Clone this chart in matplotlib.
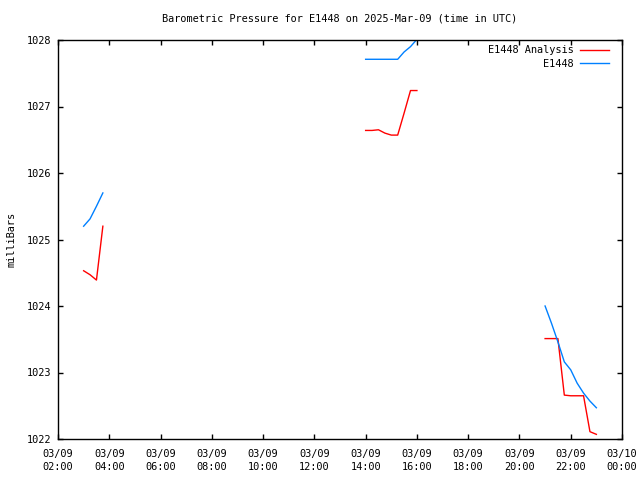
import matplotlib
matplotlib.use("Agg")
import matplotlib.pyplot as plt
import matplotlib.dates as mdates
import numpy as np
import pandas as pd

plt.rcParams['font.family'] = ['DejaVu Sans Mono']

# Times (UTC) for each segment (None marks a gap)
analysis_times = ["2025-03-09 03:00", "2025-03-09 03:15", "2025-03-09 03:30", "2025-03-09 03:45", None,
                  "2025-03-09 14:00", "2025-03-09 14:15", "2025-03-09 14:30", "2025-03-09 14:45",
                  "2025-03-09 15:00", "2025-03-09 15:15", "2025-03-09 15:30", "2025-03-09 15:45",
                  "2025-03-09 16:00", None,
                  "2025-03-09 21:00", "2025-03-09 21:15", "2025-03-09 21:30", "2025-03-09 21:45",
                  "2025-03-09 22:00", "2025-03-09 22:15", "2025-03-09 22:30", "2025-03-09 22:45",
                  "2025-03-09 23:00"]
analysis_vals = [1024.53, 1024.47, 1024.39, 1025.20, np.nan,
                 1026.64, 1026.64, 1026.65, 1026.60, 1026.57, 1026.57, 1026.90, 1027.24, 1027.24, np.nan,
                 1023.51, 1023.51, 1023.51, 1022.66, 1022.65, 1022.65, 1022.65, 1022.11, 1022.07]

obs_times = ["2025-03-09 03:00", "2025-03-09 03:15", "2025-03-09 03:30", "2025-03-09 03:45", None,
             "2025-03-09 14:00", "2025-03-09 14:15", "2025-03-09 14:30", "2025-03-09 14:45",
             "2025-03-09 15:00", "2025-03-09 15:15", "2025-03-09 15:30", "2025-03-09 15:45",
             "2025-03-09 16:00", None,
             "2025-03-09 21:00", "2025-03-09 21:15", "2025-03-09 21:30", "2025-03-09 21:45",
             "2025-03-09 22:00", "2025-03-09 22:15", "2025-03-09 22:30", "2025-03-09 22:45",
             "2025-03-09 23:00"]
obs_vals = [1025.20, 1025.31, 1025.50, 1025.70, np.nan,
            1027.71, 1027.71, 1027.71, 1027.71, 1027.71, 1027.71, 1027.82, 1027.90, 1028.01, np.nan,
            1024.00, 1023.74, 1023.46, 1023.16, 1023.04, 1022.84, 1022.69, 1022.57, 1022.47]

title = "Barometric Pressure for E1448 on 2025-Mar-09 (time in UTC)"
ylabel = "milliBars"
x_start, x_end = "2025-03-09 02:00", "2025-03-10 00:00"
y_min, y_max = 1022, 1028


def to_dates(ts):
    out = []
    prev = None
    for t in ts:
        if t is None:
            out.append(prev + pd.Timedelta(minutes=1))
        else:
            prev = pd.Timestamp(t)
            out.append(prev)
    return out

FS = 7.4
fig = plt.figure(figsize=(6.4, 4.8), dpi=100)
ax = fig.add_axes([58/640, 41/480, 564/640, 399/480])

ax.plot(to_dates(analysis_times), analysis_vals, color='#ff0000', lw=1, label='E1448 Analysis')
ax.plot(to_dates(obs_times), obs_vals, color='#0080ff', lw=1, label='E1448')

ax.set_xlim(pd.Timestamp(x_start), pd.Timestamp(x_end))
ax.set_ylim(y_min, y_max)
ax.xaxis.set_major_locator(mdates.HourLocator(byhour=range(0, 24, 2)))
ax.xaxis.set_major_formatter(mdates.DateFormatter('%m/%d\n%H:%M'))
ax.set_yticks(range(y_min, y_max + 1))
ax.tick_params(direction='in', length=3.5, width=1, top=True, right=True, labelsize=FS)
ax.tick_params(axis='y', pad=5)
ax.tick_params(axis='x', pad=7)
for lab in ax.get_xticklabels():
    lab.set_linespacing(1.35)
for s in ax.spines.values():
    s.set_linewidth(1)
ax.set_title(title, fontsize=FS, pad=13)
ax.set_ylabel(ylabel, fontsize=FS, labelpad=7)

leg = ax.legend(loc='upper right', bbox_to_anchor=(1 - 9/564, 1 - 1/399), frameon=False, fontsize=FS,
                markerfirst=False, handlelength=2.8, borderaxespad=0, borderpad=0.4,
                labelspacing=0.35, handletextpad=0.6)
for t in leg.get_texts():
    t.set_ha('right')
leg._legend_box.align = 'right'

fig.savefig('out.png', dpi=100)
